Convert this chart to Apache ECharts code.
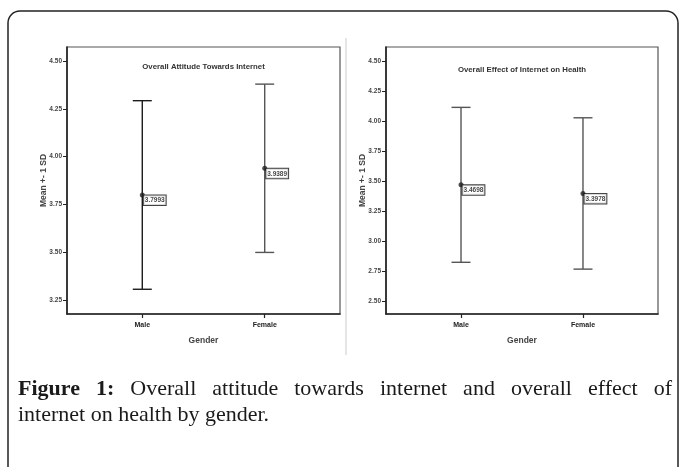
<!DOCTYPE html>
<html>
<head>
<meta charset="utf-8">
<script src="https://cdn.jsdelivr.net/npm/echarts@6/dist/echarts.min.js"></script>
<style>
  html, body { margin: 0; padding: 0; background: #fff; }
  #chart { width: 680px; height: 467px; }
</style>
</head>
<body>
<div id="chart"></div>
<script>
// Group means and standard deviations by gender
const genders = ['Male', 'Female'];
const attitudeMean = [3.7993, 3.9389];
const attitudeSD = [0.493, 0.440];
const healthMean = [3.4698, 3.3978];
const healthSD = [0.647, 0.632];

// Tick values shown on each y axis
const attitudeTicks = [3.25, 3.50, 3.75, 4.00, 4.25, 4.50];
const healthTicks = [2.50, 2.75, 3.00, 3.25, 3.50, 3.75, 4.00, 4.25, 4.50];

const panelTitles = ['Overall Attitude Towards Internet', 'Overall Effect of Internet on Health'];
const yAxisTitle = 'Mean +- 1 SD';
const xAxisTitle = 'Gender';
const captionLead = ['Figure', '1:'];
const captionLine1 = 'Overall attitude towards internet and overall effect of';
const captionLine2 = 'internet on health by gender.';

const NARROW = "'Liberation Sans Narrow', 'Arial Narrow', 'Liberation Sans', sans-serif";
const SERIF = "'Liberation Serif', 'DejaVu Serif', serif";

const grids = [
  { left: 67, top: 47, width: 273, height: 267 },
  { left: 386, top: 47, width: 272, height: 267 }
];
const yRanges = [[3.177, 4.573], [2.391, 4.621]];
const yTicks = [attitudeTicks, healthTicks];
const barColors = [['#1c1c1c', '#555555'], ['#555555', '#555555']];

function xAxisFor(i) {
  return {
    gridIndex: i, type: 'value', min: 0.385, max: 2.615,
    axisLine: { show: true, lineStyle: { color: '#222', width: 1.6 } },
    axisTick: { show: true, customValues: [1, 2], length: 4, lineStyle: { color: '#222', width: 1.2 } },
    axisLabel: {
      customValues: [1, 2], formatter: v => genders[Math.round(v) - 1],
      fontSize: 7, fontWeight: 'bold', fontFamily: NARROW, color: '#222', margin: 8
    },
    splitLine: { show: false },
    name: xAxisTitle, nameLocation: 'middle', nameGap: 22,
    nameTextStyle: { fontSize: 8.5, fontWeight: 'bold', fontFamily: NARROW, color: '#444' }
  };
}

function yAxisFor(i) {
  return {
    gridIndex: i, type: 'value', min: yRanges[i][0], max: yRanges[i][1],
    axisLine: { show: true, lineStyle: { color: '#222', width: 1.6 } },
    axisTick: { show: true, customValues: yTicks[i], length: 4, lineStyle: { color: '#222', width: 1 } },
    axisLabel: {
      customValues: yTicks[i], formatter: v => v.toFixed(2),
      fontSize: 6.5, fontWeight: 'bold', fontFamily: NARROW, color: '#444', margin: 5
    },
    splitLine: { show: false },
    name: yAxisTitle, nameLocation: 'middle', nameGap: 19, nameRotate: 90,
    nameMoveOverlap: false,
    nameTextStyle: { fontSize: 8.5, fontWeight: 'bold', fontFamily: NARROW, color: '#444' }
  };
}

function errorBarSeries(i, means, sds) {
  return {
    type: 'custom', xAxisIndex: i, yAxisIndex: i,
    data: genders.map((g, k) => [k + 1, means[k], sds[k]]),
    renderItem: (params, api) => {
      const x = api.value(0), m = api.value(1), s = api.value(2);
      const hi = api.coord([x, m + s]);
      const lo = api.coord([x, m - s]);
      const color = barColors[i][params.dataIndex];
      const half = 9.5;
      const style = { stroke: color, lineWidth: 1.4 };
      return {
        type: 'group',
        children: [
          { type: 'line', shape: { x1: hi[0], y1: hi[1], x2: lo[0], y2: lo[1] }, style },
          { type: 'line', shape: { x1: hi[0] - half, y1: hi[1], x2: hi[0] + half, y2: hi[1] }, style },
          { type: 'line', shape: { x1: lo[0] - half, y1: lo[1], x2: lo[0] + half, y2: lo[1] }, style }
        ]
      };
    }
  };
}

function meanSeries(i, means) {
  return {
    type: 'scatter', xAxisIndex: i, yAxisIndex: i,
    data: genders.map((g, k) => [k + 1, means[k]]),
    symbolSize: 5, itemStyle: { color: '#222' },
    label: {
      show: true, position: [4, 3],
      formatter: p => p.value[1].toFixed(4),
      fontSize: 6.5, fontWeight: 'bold', fontFamily: NARROW, color: '#111',
      backgroundColor: '#fff', borderColor: '#111', borderWidth: 1,
      padding: [1.5, 1, 1, 1]
    },
    z: 5
  };
}

// Caption: first line is justified across the frame width
const measureCtx = document.createElement('canvas').getContext('2d');
const captionSize = 22;
const boldFont = `bold ${captionSize}px ${SERIF}`;
const normFont = `${captionSize}px ${SERIF}`;
function widthOf(text, font) { measureCtx.font = font; return measureCtx.measureText(text).width; }

const line1Words = captionLead.map(w => ({ w, bold: true }))
  .concat(captionLine1.split(' ').map(w => ({ w, bold: false })));
const capLeft = 18, capRight = 672;
const wordsWidth = line1Words.reduce((acc, o) => acc + widthOf(o.w, o.bold ? boldFont : normFont), 0);
const gap = (capRight - capLeft - wordsWidth) / (line1Words.length - 1);
const captionGraphics = [];
let cx = capLeft;
line1Words.forEach(o => {
  const f = o.bold ? boldFont : normFont;
  captionGraphics.push({
    type: 'text', x: cx, y: 389,
    style: { text: o.w, font: f, fill: '#1a1a1a', textAlign: 'left', textVerticalAlign: 'middle' }
  });
  cx += widthOf(o.w, f) + gap;
});
captionGraphics.push({
  type: 'text', x: capLeft, y: 415,
  style: { text: captionLine2, font: normFont, fill: '#1a1a1a', textAlign: 'left', textVerticalAlign: 'middle' }
});

const chart = echarts.init(document.getElementById('chart'), null, { renderer: 'canvas' });
chart.setOption({
  backgroundColor: '#fff',
  animation: false,
  grid: grids.map(g => Object.assign({ show: true, borderColor: '#555', borderWidth: 1.2, backgroundColor: 'transparent' }, g)),
  xAxis: [xAxisFor(0), xAxisFor(1)],
  yAxis: [yAxisFor(0), yAxisFor(1)],
  series: [
    errorBarSeries(0, attitudeMean, attitudeSD),
    meanSeries(0, attitudeMean),
    errorBarSeries(1, healthMean, healthSD),
    meanSeries(1, healthMean)
  ],
  graphic: [
    {
      type: 'rect', shape: { x: 8, y: 11, width: 670, height: 490, r: 12 },
      style: { fill: 'none', stroke: '#222', lineWidth: 1.5 }, silent: true
    },
    {
      type: 'line', shape: { x1: 346, y1: 38, x2: 346, y2: 355 },
      style: { stroke: '#dddddd', lineWidth: 1.5 }, silent: true
    },
    {
      type: 'text', x: grids[0].left + grids[0].width / 2, y: 67,
      style: { text: panelTitles[0], font: `bold 7.8px ${NARROW}`, fill: '#333', textAlign: 'center', textVerticalAlign: 'middle' }
    },
    {
      type: 'text', x: grids[1].left + grids[1].width / 2, y: 70,
      style: { text: panelTitles[1], font: `bold 7.8px ${NARROW}`, fill: '#333', textAlign: 'center', textVerticalAlign: 'middle' }
    }
  ].concat(captionGraphics)
});
</script>
</body>
</html>
